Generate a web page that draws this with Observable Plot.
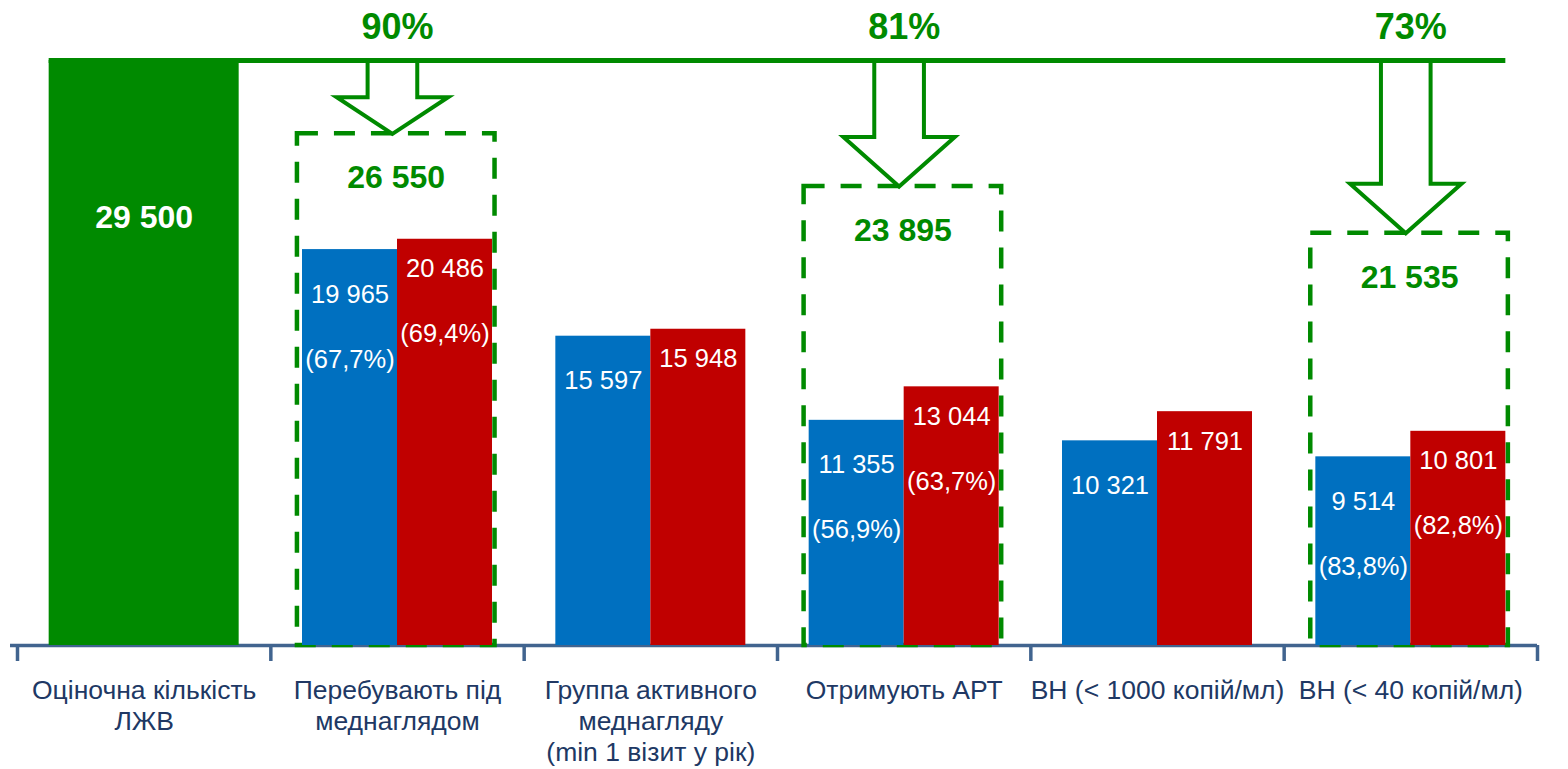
<!DOCTYPE html>
<html>
<head>
<meta charset="utf-8">
<script src="https://cdn.jsdelivr.net/npm/d3@7"></script>
<script src="https://cdn.jsdelivr.net/npm/@observablehq/plot@0.6"></script>
<style>
  html, body { margin: 0; padding: 0; background: #ffffff; }
  #chart svg { display: block; }
</style>
</head>
<body>
<div id="chart"></div>
<script>
// ---- data ----
const categories = [
  "Оціночна кількість\nЛЖВ",
  "Перебувають під\nмеднаглядом",
  "Группа активного\nмеднагляду\n(min 1 візит у рік)",
  "Отримують АРТ",
  "ВН (< 1000 копій/мл)",
  "ВН (< 40 копій/мл)"
];
const estimatedTotal = 29500;
const blueValues = [null, 19965, 15597, 11355, 10321, 9514];
const redValues  = [null, 20486, 15948, 13044, 11791, 10801];
const bluePct = [null, "(67,7%)", null, "(56,9%)", null, "(83,8%)"];
const redPct  = [null, "(69,4%)", null, "(63,7%)", null, "(82,8%)"];
const targetCategory = [1, 3, 5];
const targetValues = [26550, 23895, 21535];
const targetPct = ["90%", "81%", "73%"];

// ---- styles ----
const GREEN = "#008a00", BLUE = "#0070c0", RED = "#c00000";
const AXIS = "#41648f", LABEL = "#203864";
const HALF = 0.375;          // bar width in category units
const BOX_GAP = 750;         // box top below target (data units)
const fmt = d3.formatLocale({decimal: ",", thousands: " ", grouping: [3], currency: ["", ""]}).format(",");

const blueRows = blueValues.map((v, i) => ({i, value: v, pct: bluePct[i]})).filter(d => d.value != null);
const redRows  = redValues.map((v, i) => ({i, value: v, pct: redPct[i]})).filter(d => d.value != null);
const totalRows = [{i: 0, value: estimatedTotal}];
const targets = targetCategory.map((c, k) => ({i: c, value: targetValues[k], pct: targetPct[k], top: targetValues[k] - BOX_GAP}));

// arrow outlines (built from targets)
const arrowPts = [];
targets.forEach((t, k) => {
  const c = t.i - 0.02, sw = 0.098, hw = 0.22;
  const head = Math.min(2500, (estimatedTotal - t.top) / 2);
  const base = t.top + head;
  [[c - sw, estimatedTotal], [c - sw, base], [c - hw, base], [c, t.top],
   [c + hw, base], [c + sw, base], [c + sw, estimatedTotal]]
    .forEach(([x, y]) => arrowPts.push({k, x, y}));
});

const boundaries = d3.range(-0.5, categories.length, 1);

const plot = Plot.plot({
  width: 1568,
  height: 769,
  marginTop: 60,
  marginBottom: 124,
  marginLeft: 17,
  marginRight: 31,
  style: {fontFamily: "'Liberation Sans', Arial, sans-serif", background: "#ffffff", overflow: "visible"},
  x: {domain: [-0.5, categories.length - 0.5]},
  y: {domain: [0, estimatedTotal], axis: null},
  marks: [
    // axis baseline and boundary ticks
    Plot.ruleY([0], {stroke: AXIS, strokeWidth: 3.5, insetLeft: -7}),
    Plot.axisX({ticks: boundaries, tickSize: 16, tickFormat: () => "", stroke: AXIS, strokeWidth: 3.5, label: null}),
    Plot.axisX({ticks: d3.range(categories.length), tickSize: 0, tickPadding: 31,
      tickFormat: i => categories[i], fontSize: 26.5, lineHeight: 1.17, fill: LABEL, label: null}),

    // dashed target boxes
    Plot.rect(targets, {x1: d => d.i - 0.395, x2: d => d.i + 0.385, y1: 0, y2: "top",
      fill: "none", stroke: GREEN, strokeWidth: 4.5, strokeDasharray: "21,16"}),

    // bars
    Plot.rectY(totalRows, {x1: d => d.i - HALF, x2: d => d.i + HALF, y: "value", fill: GREEN}),
    Plot.rectY(blueRows, {x1: d => d.i - HALF, x2: d => d.i, y: "value", fill: BLUE}),
    Plot.rectY(redRows, {x1: d => d.i, x2: d => d.i + HALF, y: "value", fill: RED}),

    // arrows and the 100% line
    Plot.line(arrowPts, {x: "x", y: "y", z: "k", stroke: GREEN, strokeWidth: 4, fill: "white",
      strokeLinejoin: "miter", strokeMiterlimit: 10}),
    Plot.ruleY([estimatedTotal], {x1: -HALF, x2: categories.length - 1 + HALF, stroke: GREEN, strokeWidth: 5}),

    // labels
    Plot.text(totalRows, {x: "i", y: "value", text: d => fmt(d.value), dy: 157, fill: "white",
      fontSize: 32, fontWeight: "bold", lineAnchor: "middle"}),
    Plot.text(blueRows, {x: d => d.i - HALF / 2, y: "value", text: d => fmt(d.value), dy: 45, fill: "white",
      fontSize: 25.5, lineAnchor: "middle"}),
    Plot.text(blueRows.filter(d => d.pct), {x: d => d.i - HALF / 2, y: "value", text: "pct", dy: 110, fill: "white",
      fontSize: 25.5, lineAnchor: "middle"}),
    Plot.text(redRows, {x: d => d.i + HALF / 2, y: "value", text: d => fmt(d.value), dy: 30, fill: "white",
      fontSize: 25.5, lineAnchor: "middle"}),
    Plot.text(redRows.filter(d => d.pct), {x: d => d.i + HALF / 2, y: "value", text: "pct", dy: 95, fill: "white",
      fontSize: 25.5, lineAnchor: "middle"}),
    Plot.text(targets, {x: d => d.i - 0.005, y: "top", text: d => fmt(d.value), dy: 44, fill: GREEN,
      fontSize: 32, fontWeight: "bold", lineAnchor: "middle"}),
    Plot.text(targets, {x: "i", y: estimatedTotal, text: "pct", dy: -33, fill: GREEN,
      fontSize: 36, fontWeight: "bold", lineAnchor: "middle"})
  ]
});
document.getElementById("chart").appendChild(plot);
</script>
</body>
</html>
